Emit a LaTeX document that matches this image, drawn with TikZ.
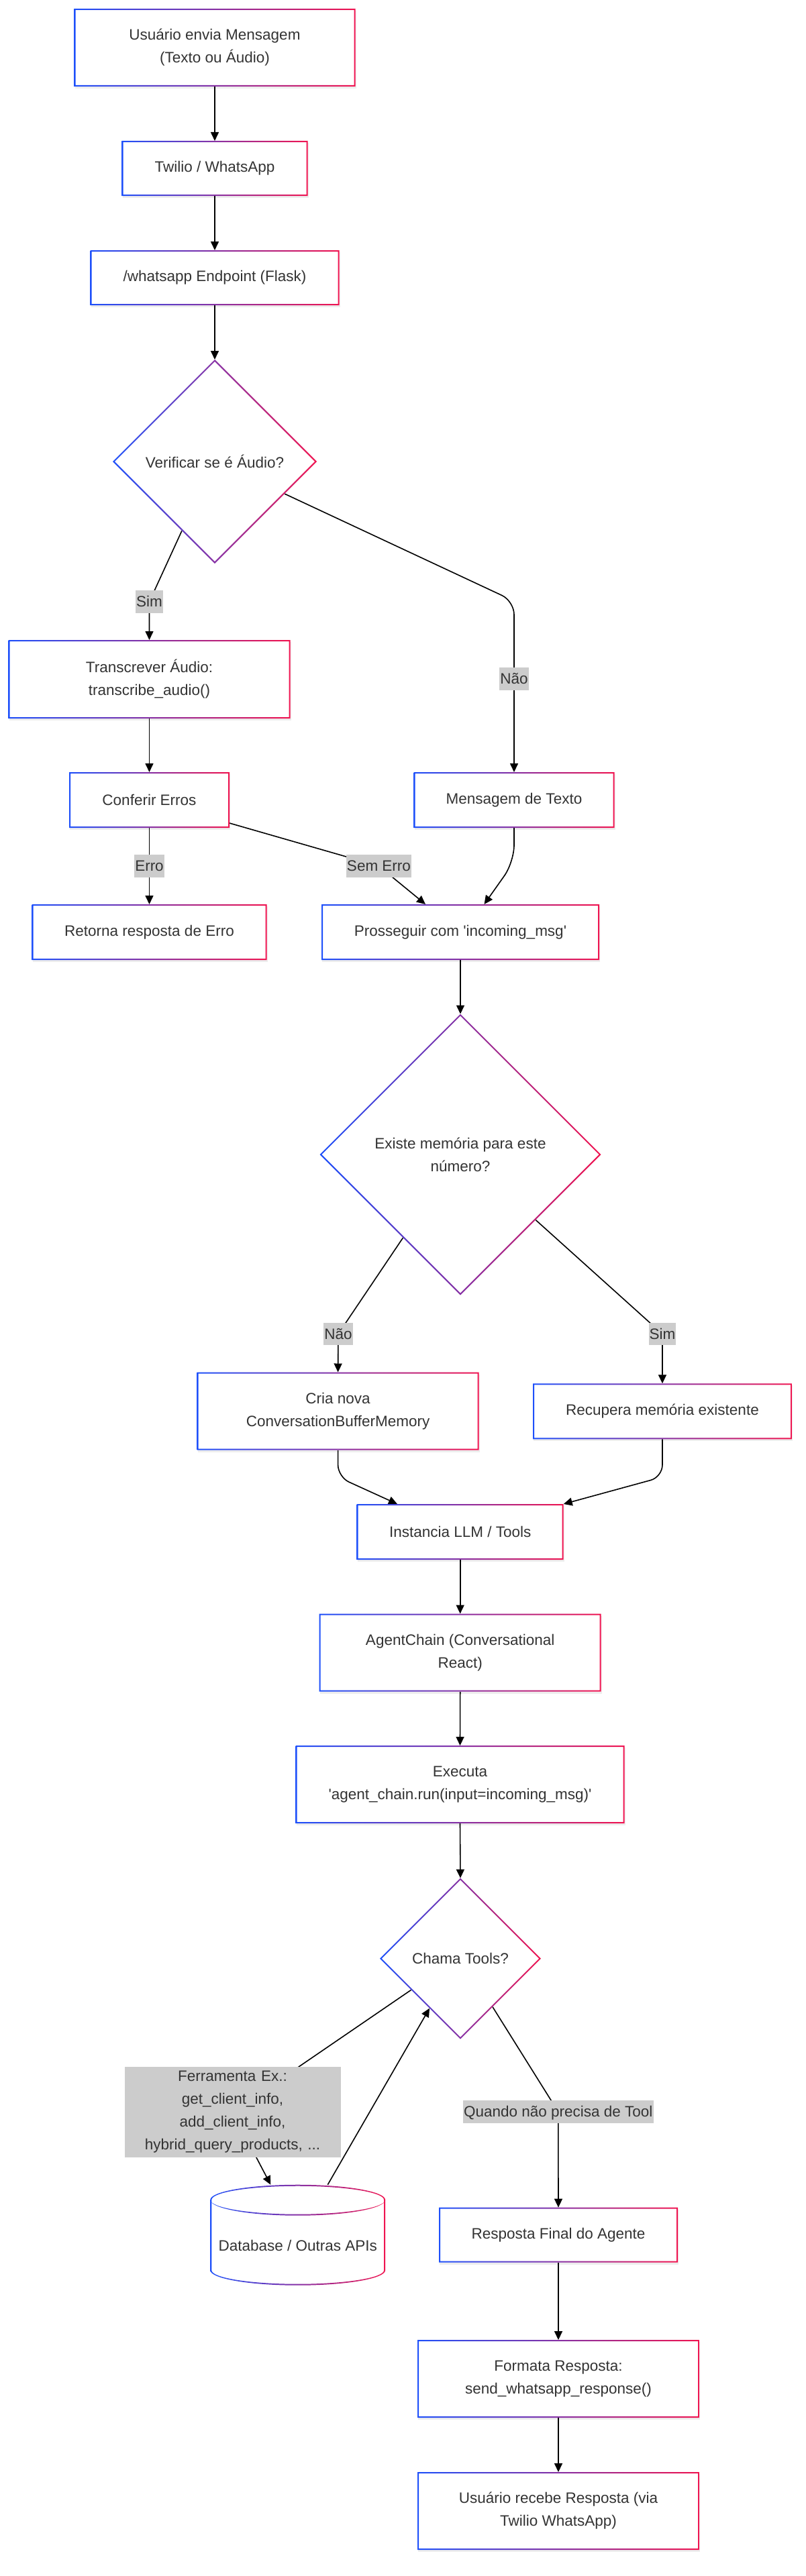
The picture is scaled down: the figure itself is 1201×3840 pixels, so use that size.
\documentclass[tikz,border=0pt]{standalone}
\usepackage{fontspec}
\newfontfamily\lsans{Liberation Sans}
\usetikzlibrary{arrows.meta,calc,shapes.geometric}
\definecolor{gb}{RGB}{30,80,250}
\definecolor{gr}{RGB}{240,20,80}
\definecolor{tx}{HTML}{333333}
\definecolor{lg}{HTML}{CCCCCC}
\pgfdeclarelayer{bg}
\pgfdeclarelayer{edges}
\pgfsetlayers{bg,edges,main}
\newcommand\gbox[1]{\shade[even odd rule,left color=gb,right color=gr] (#1.south west) rectangle (#1.north east) ([shift={(2pt,2pt)}]#1.south west) rectangle ([shift={(-2pt,-2pt)}]#1.north east);}
\newcommand\gdia[1]{\shade[even odd rule,left color=gb,right color=gr] (#1.north)--(#1.east)--(#1.south)--(#1.west)--cycle ([yshift=-2.8pt]#1.north)--([xshift=-2.8pt]#1.east)--([yshift=2.8pt]#1.south)--([xshift=2.8pt]#1.west)--cycle;}
\tikzset{
  box/.style={rectangle, fill=white, inner sep=2pt, outer sep=0pt, align=center, text=tx,
    preaction={fill=black, opacity=0.07, transform canvas={xshift=1pt,yshift=-3pt}}},
  dia/.style={diamond, aspect=1, fill=white, inner sep=0pt, outer sep=0pt, align=center, text=tx},
  lbl/.style={fill=lg, text=tx, inner xsep=1pt, inner ysep=0pt, text height=24.5pt, text depth=9.25pt},
  lblbig/.style={fill=lg, text=tx, inner sep=1pt, align=center, text width=320pt, minimum height=135pt},
  arr/.style={draw=black, line width=1.6pt, -{Triangle[length=13pt,width=12pt]}}
}
\begin{document}
\begin{tikzpicture}[x=1pt,y=-1pt,font=\lsans\fontsize{22.5}{34}\selectfont]
\begin{pgfonlayer}{bg}
\fill[white] (0,0) rectangle (1201,3840);
\end{pgfonlayer}
\useasboundingbox (0,0) rectangle (1201,3840);

% nodes
\node[box, minimum width=419pt, minimum height=116pt] (n1) at (320,71) {Usuário envia Mensagem\\(Texto ou Áudio)};
\node[box, minimum width=277pt, minimum height=82pt] (n2) at (320,251) {Twilio / WhatsApp};
\node[box, minimum width=371pt, minimum height=82pt] (n3) at (320,414) {/whatsapp Endpoint (Flask)};
\node[dia, minimum width=304pt, minimum height=304pt] (d1) at (320,688) {Verificar se é Áudio?};
\node[box, minimum width=420pt, minimum height=117pt] (tr) at (222.5,1012.5) {Transcrever Áudio:\\transcribe\_audio()};
\node[box, minimum width=239pt, minimum height=83pt] (ce) at (222.5,1192.5) {Conferir Erros};
\node[box, minimum width=299pt, minimum height=83pt] (mt) at (766,1192.5) {Mensagem de Texto};
\node[box, minimum width=350pt, minimum height=83pt] (re) at (222.5,1389.5) {Retorna resposta de Erro};
\node[box, minimum width=414pt, minimum height=83pt] (pr) at (686,1389.5) {Prosseguir com 'incoming\_msg'};
\node[dia, minimum width=419pt, minimum height=419pt] (d2) at (686,1721) {Existe memória para este\\número?};
\node[box, minimum width=420pt, minimum height=116pt] (cn) at (503.6,2103.5) {Cria nova\\ConversationBufferMemory};
\node[box, minimum width=386pt, minimum height=83pt] (rm) at (987,2103.8) {Recupera memória existente};
\node[box, minimum width=308pt, minimum height=83pt] (il) at (685.7,2283.5) {Instancia LLM / Tools};
\node[box, minimum width=420pt, minimum height=116pt] (ac) at (685.7,2463.5) {AgentChain (Conversational\\React)};
\node[box, minimum width=490pt, minimum height=116pt] (ex) at (685.5,2660) {Executa\\'agent\_chain.run(input=incoming\_msg)'};
\node[dia, minimum width=240pt, minimum height=240pt] (d3) at (686,2919.6) {Chama Tools?};
\node[inner sep=0pt, outer sep=0pt, minimum width=260.8pt, minimum height=150pt] (db) at (443.7,3331.7) {};
\node[box, minimum width=356pt, minimum height=82pt] (rf) at (832,3331.6) {Resposta Final do Agente};
\node[box, minimum width=420pt, minimum height=116pt] (fr) at (832,3546) {Formata Resposta:\\send\_whatsapp\_response()};
\node[box, minimum width=420pt, minimum height=116pt] (ur) at (832,3743) {Usuário recebe Resposta (via\\Twilio WhatsApp)};

% cylinder
\fill[white] ([yshift=-22.5pt]db.north west) arc[start angle=180,end angle=0,x radius=130.4pt,y radius=22.5pt] -- ([yshift=22.5pt]db.south east) arc[start angle=0,end angle=-180,x radius=130.4pt,y radius=22.5pt] -- cycle;
\shade[even odd rule,left color=gb,right color=gr]
 ([yshift=-22.5pt]db.north west) arc[start angle=180,end angle=0,x radius=130.4pt,y radius=22.5pt] -- ([yshift=22.5pt]db.south east) arc[start angle=0,end angle=-180,x radius=130.4pt,y radius=22.5pt] -- cycle
 ([shift={(2pt,-22.5pt)}]db.north west) arc[start angle=180,end angle=0,x radius=128.4pt,y radius=20.5pt] -- ([shift={(-2pt,22.5pt)}]db.south east) arc[start angle=0,end angle=-180,x radius=128.4pt,y radius=20.5pt] -- cycle;
\shade[left color=gb,right color=gr] ([yshift=-22.5pt]db.north west) arc[start angle=180,end angle=360,x radius=130.4pt,y radius=23.5pt] arc[start angle=0,end angle=-180,x radius=130.4pt,y radius=21.5pt] -- cycle;
\node[text=tx] (dbt) at (443.7,3347) {Database / Outras APIs};

% gradient frames
\gbox{n1}\gbox{n2}\gbox{n3}\gbox{tr}\gbox{ce}\gbox{mt}\gbox{re}\gbox{pr}
\gbox{cn}\gbox{rm}\gbox{il}\gbox{ac}\gbox{ex}\gbox{rf}\gbox{fr}\gbox{ur}
\gdia{d1}\gdia{d2}\gdia{d3}

% edge labels
\node[lbl] (ls1) at (222.5,897) {Sim};
\node[lbl] (ln1) at (766,1012) {Não};
\node[lbl] (ler) at (222.5,1291) {Erro};
\node[lbl] (lse) at (564.5,1291) {Sem Erro};
\node[lbl] (ln2) at (504,1988.5) {Não};
\node[lbl] (ls2) at (987,1988.5) {Sim};
\node[lblbig] (fe) at (346.5,3148.4) {Ferramenta Ex.:\\get\_client\_info,\\add\_client\_info,\\hybrid\_query\_products, ...};
\node[lbl] (lq) at (831.8,3148) {Quando não precisa de Tool};

\coordinate (c1) at (766,896);
\coordinate (c2) at (766,1285);
\coordinate (c3) at (503.6,2201.7);
\coordinate (c4) at (987,2201.7);

\begin{pgfonlayer}{edges}
\draw[arr] (n1.south) -- (n2.north);
\draw[arr] (n2.south) -- (n3.north);
\draw[arr] (n3.south) -- (d1.north);
\draw[arr] ($(d1.south)!0.322!(d1.west)$) -- (ls1.center) -- (tr.north);
\draw[arr, rounded corners=20pt] ($(d1.east)!0.316!(d1.south)$) -- (c1) -- (mt.north);
\draw[arr] (tr.south) -- (ce.north);
\draw[arr] (ce.south) -- (re.north);
\draw[arr] ([yshift=7pt]ce.south east) -- (lse.center) -- ([xshift=-52pt]pr.north);
\draw[arr, rounded corners=25pt] (mt.south) -- (c2) -- ([xshift=35.5pt]pr.north);
\draw[arr] (pr.south) -- (d2.north);
\draw[arr] ($(d2.south)!0.408!(d2.west)$) -- (ln2.center) -- (cn.north);
\draw[arr] ($(d2.east)!0.465!(d2.south)$) -- (ls2.center) -- (rm.north);
\draw[arr, rounded corners=18pt] (cn.south) -- (c3) -- ([xshift=-93.7pt]il.north);
\draw[arr, rounded corners=18pt] (rm.south) -- (c4) -- (il.north east);
\draw[arr] (il.south) -- (ac.north);
\draw[arr] (ac.south) -- (ex.north);
\draw[arr] (ex.south) -- (d3.north);
\draw[arr] ($(d3.south)!0.611!(d3.west)$) -- (fe.center) -- ([xshift=-40.4pt]db.north);
\draw[arr] ([xshift=44.6pt]db.north) -- ($(d3.south)!0.383!(d3.west)$);
\draw[arr] ($(d3.east)!0.6!(d3.south)$) -- (lq.center) -- (rf.north);
\draw[arr] (rf.south) -- (fr.north);
\draw[arr] (fr.south) -- (ur.north);
\end{pgfonlayer}
\end{tikzpicture}
\end{document}
